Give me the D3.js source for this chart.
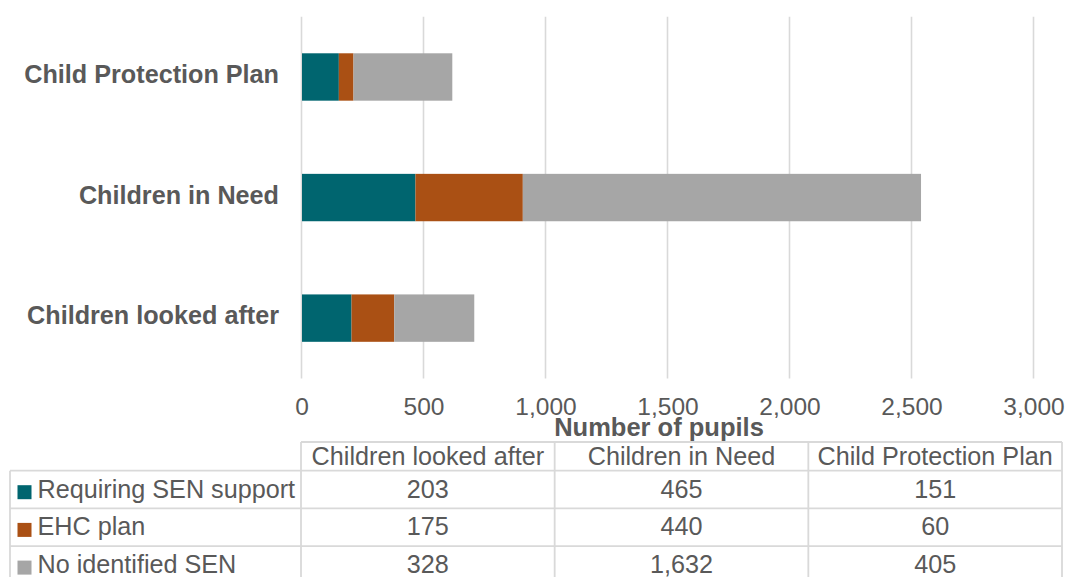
<!DOCTYPE html>
<html>
<head>
<meta charset="utf-8">
<script src="https://cdn.jsdelivr.net/npm/d3@7"></script>
<style>
  html, body { margin: 0; padding: 0; background: #ffffff; }
  svg { display: block; font-family: "Liberation Sans", Arial, sans-serif; }
</style>
</head>
<body>
<svg id="chart" width="1067" height="577"></svg>
<script>
// Pupil groups, in the order used by the data table
const categories = ["Children looked after", "Children in Need", "Child Protection Plan"];
const seriesNames = ["Requiring SEN support", "EHC plan", "No identified SEN"];
const senSupport = [203, 465, 151];
const ehcPlan = [175, 440, 60];
const noSen = [328, 1632, 405];
const tickValues = [0, 500, 1000, 1500, 2000, 2500, 3000];
const seriesColors = ["#00656f", "#aa5014", "#a6a6a6"];

const seriesValues = [senSupport, ehcPlan, noSen];
const rows = categories.map((c, i) => {
  const r = { category: c };
  seriesNames.forEach((s, j) => { r[s] = seriesValues[j][i]; });
  return r;
});

const svg = d3.select("#chart");
const textColor = "#595959";
const gridColor = "#d9d9d9";
const fontSize = 25.2;

// Plot area
const plot = { left: 301.5, right: 1033.5, top: 16.7, bottom: 378.4 };

const x = d3.scaleLinear().domain([0, 3000]).range([plot.left, plot.right]);
const y = d3.scaleBand()
  .domain(categories.slice().reverse())
  .range([plot.top, plot.bottom])
  .paddingInner(0.607)
  .paddingOuter(0.3035);

// Vertical gridlines
svg.append("g")
  .selectAll("line")
  .data(tickValues)
  .join("line")
  .attr("x1", d => x(d)).attr("x2", d => x(d))
  .attr("y1", plot.top).attr("y2", plot.bottom)
  .attr("stroke", gridColor)
  .attr("stroke-width", 1.6);

// Stacked bars
const stack = d3.stack().keys(seriesNames)(rows);
svg.append("g")
  .selectAll("g")
  .data(stack)
  .join("g")
  .attr("fill", (d, i) => seriesColors[i])
  .selectAll("rect")
  .data(d => d)
  .join("rect")
  .attr("x", d => x(d[0]) + 0.5)
  .attr("width", d => x(d[1]) - x(d[0]))
  .attr("y", d => y(d.data.category))
  .attr("height", y.bandwidth());

// Category labels
svg.append("g")
  .selectAll("text")
  .data(categories)
  .join("text")
  .attr("x", 279)
  .attr("y", d => y(d) + y.bandwidth() / 2 + 6)
  .attr("text-anchor", "end")
  .attr("font-size", fontSize)
  .attr("font-weight", "bold")
  .attr("fill", textColor)
  .text(d => d);

// Value axis tick labels
const xAxis = d3.axisBottom(x)
  .tickValues(tickValues)
  .tickFormat(d3.format(","))
  .tickSize(0)
  .tickPadding(0);
const axisG = svg.append("g")
  .attr("transform", `translate(0, ${plot.bottom})`)
  .call(xAxis);
axisG.select(".domain").remove();
axisG.selectAll("text")
  .attr("dy", null)
  .attr("y", 37)
  .attr("font-size", 24.5)
  .attr("font-family", "\"Liberation Sans\", Arial, sans-serif")
  .attr("fill", textColor);

// Axis title
svg.append("text")
  .attr("x", 659)
  .attr("y", 436)
  .attr("text-anchor", "middle")
  .attr("font-size", 25.5)
  .attr("font-weight", "bold")
  .attr("fill", textColor)
  .text("Number of pupils");

// Data table with legend keys
const table = { left: 10, colStart: 301, right: 1062, headerTop: 442, headerBottom: 470.7, rowH: 37.7 };
const colW = (table.right - table.colStart) / categories.length;
const tg = svg.append("g");
const lineStyle = sel => sel.attr("stroke", gridColor).attr("stroke-width", 1.8).attr("fill", "none");

// Header outline (column area only)
tg.append("line").attr("x1", table.colStart).attr("x2", table.right)
  .attr("y1", table.headerTop).attr("y2", table.headerTop).call(lineStyle);
// Horizontal row lines
const rowTops = seriesNames.map((s, i) => table.headerBottom + i * table.rowH);
tg.selectAll("line.row")
  .data(rowTops)
  .join("line")
  .attr("class", "row")
  .attr("x1", table.left).attr("x2", table.right)
  .attr("y1", d => d).attr("y2", d => d)
  .call(lineStyle);
// Vertical lines
const tableBottom = table.headerBottom + seriesNames.length * table.rowH;
tg.append("line").attr("x1", table.left).attr("x2", table.left)
  .attr("y1", table.headerBottom).attr("y2", tableBottom).call(lineStyle);
tg.selectAll("line.col")
  .data(d3.range(categories.length + 1))
  .join("line")
  .attr("class", "col")
  .attr("x1", i => table.colStart + i * colW).attr("x2", i => table.colStart + i * colW)
  .attr("y1", table.headerTop).attr("y2", tableBottom)
  .call(lineStyle);

// Column headers
tg.selectAll("text.head")
  .data(categories)
  .join("text")
  .attr("class", "head")
  .attr("x", (d, i) => table.colStart + (i + 0.5) * colW)
  .attr("y", table.headerBottom - 6)
  .attr("text-anchor", "middle")
  .attr("font-size", fontSize)
  .attr("fill", textColor)
  .text(d => d);

// Row headers with colour keys
const rowG = tg.selectAll("g.rowlab")
  .data(seriesNames)
  .join("g")
  .attr("class", "rowlab")
  .attr("transform", (d, i) => `translate(0, ${rowTops[i]})`);
rowG.append("rect")
  .attr("x", 17.5).attr("y", 14.5)
  .attr("width", 14).attr("height", 14)
  .attr("fill", (d, i) => seriesColors[i]);
rowG.append("text")
  .attr("x", 37.5).attr("y", 27)
  .attr("font-size", fontSize)
  .attr("fill", textColor)
  .text(d => d);

// Values
const fmt = d3.format(",");
seriesValues.forEach((vals, r) => {
  tg.selectAll(null)
    .data(vals)
    .join("text")
    .attr("x", (d, i) => table.colStart + (i + 0.5) * colW)
    .attr("y", rowTops[r] + 27)
    .attr("text-anchor", "middle")
    .attr("font-size", fontSize)
    .attr("fill", textColor)
    .text(d => fmt(d));
});
</script>
</body>
</html>
